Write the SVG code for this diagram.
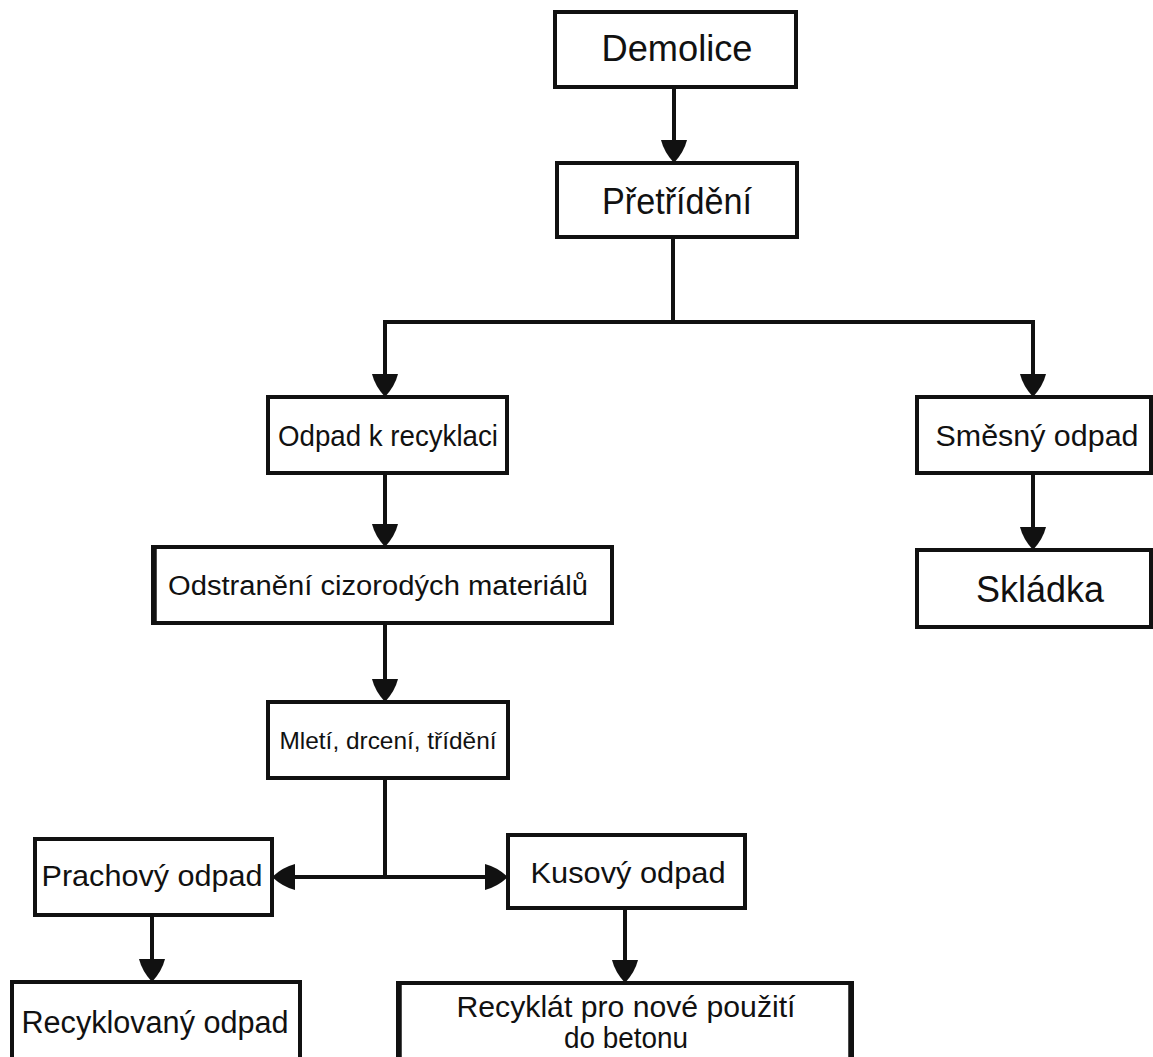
<svg xmlns="http://www.w3.org/2000/svg" width="1153" height="1057" viewBox="0 0 1153 1057">
  <style>
    .box { fill: #ffffff; stroke: #111111; stroke-width: 4; }
    .edge { stroke: #111111; stroke-width: 5.5; }
    .lbl { font-family: "Liberation Sans", Arial, sans-serif; fill: #111111; text-anchor: middle; }
    .wire { fill: none; stroke: #111111; stroke-width: 4; }
    .arrow { fill: none; stroke: #111111; stroke-width: 4; marker-end: url(#head); }
  </style>
  <defs>
    <marker id="head" markerUnits="userSpaceOnUse" viewBox="0 -14 24 28" refX="20" refY="0" markerWidth="24" markerHeight="28" orient="auto-start-reverse">
      <path d="M0,-13 Q12,-10 23,0 Q12,10 0,13 Z" fill="#111111"/>
    </marker>
  </defs>
  <rect width="1153" height="1057" fill="#ffffff"/>

  <!-- connectors -->
  <g id="connectors">
    <line class="arrow" x1="674" y1="87" x2="674" y2="160"/>
    <polyline class="wire" points="673,237 673,322"/>
    <polyline class="wire" points="385,322 1033,322"/>
    <line class="arrow" x1="385" y1="320" x2="385" y2="394"/>
    <line class="arrow" x1="1033" y1="320" x2="1033" y2="394"/>
    <line class="arrow" x1="1033" y1="473" x2="1033" y2="547"/>
    <line class="arrow" x1="385" y1="473" x2="385" y2="544"/>
    <line class="arrow" x1="385" y1="623" x2="385" y2="699"/>
    <polyline class="wire" points="385,778 385,877"/>
    <line class="wire" x1="275" y1="877" x2="505" y2="877" marker-start="url(#head)" marker-end="url(#head)"/>
    <line class="arrow" x1="152" y1="915" x2="152" y2="979"/>
    <line class="arrow" x1="625" y1="908" x2="625" y2="980"/>
  </g>

  <!-- nodes -->
  <g id="demolice">
    <rect class="box" x="555" y="12" width="241" height="75"/>
    <text class="lbl" x="677" y="61" font-size="36" textLength="151" lengthAdjust="spacingAndGlyphs">Demolice</text>
  </g>
  <g id="pretrideni">
    <rect class="box" x="557" y="163" width="240" height="74"/>
    <text class="lbl" x="677" y="214" font-size="36" textLength="150" lengthAdjust="spacingAndGlyphs">Přetřídění</text>
  </g>
  <g id="odpad-k-recyklaci">
    <rect class="box" x="268" y="397" width="239" height="76"/>
    <text class="lbl" x="388" y="446" font-size="29" textLength="220" lengthAdjust="spacingAndGlyphs">Odpad k recyklaci</text>
  </g>
  <g id="smesny-odpad">
    <rect class="box" x="917" y="397" width="234" height="76"/>
    <text class="lbl" x="1037" y="446" font-size="29" textLength="203" lengthAdjust="spacingAndGlyphs">Směsný odpad</text>
  </g>
  <g id="skladka">
    <rect class="box" x="917" y="550" width="234" height="77"/>
    <text class="lbl" x="1040" y="602" font-size="36" textLength="128" lengthAdjust="spacingAndGlyphs">Skládka</text>
  </g>
  <g id="odstraneni">
    <rect class="box" x="153" y="547" width="459" height="76"/>
    <line class="edge" x1="154" y1="547" x2="154" y2="623"/>
    <text class="lbl" x="378" y="595" font-size="27" textLength="420" lengthAdjust="spacingAndGlyphs">Odstranění cizorodých materiálů</text>
  </g>
  <g id="mleti">
    <rect class="box" x="268" y="702" width="240" height="76"/>
    <text class="lbl" x="388" y="749" font-size="24" textLength="217" lengthAdjust="spacingAndGlyphs">Mletí, drcení, třídění</text>
  </g>
  <g id="prachovy-odpad">
    <rect class="box" x="35" y="839" width="237" height="76"/>
    <text class="lbl" x="152" y="886" font-size="30" textLength="221" lengthAdjust="spacingAndGlyphs">Prachový odpad</text>
  </g>
  <g id="kusovy-odpad">
    <rect class="box" x="508" y="835" width="237" height="73"/>
    <text class="lbl" x="628" y="883" font-size="30" textLength="195" lengthAdjust="spacingAndGlyphs">Kusový odpad</text>
  </g>
  <g id="recyklovany-odpad">
    <rect class="box" x="12" y="982" width="288" height="80"/>
    <text class="lbl" x="155" y="1033" font-size="31" textLength="267" lengthAdjust="spacingAndGlyphs">Recyklovaný odpad</text>
  </g>
  <g id="recyklat">
    <rect class="box" x="398" y="983" width="454" height="80"/>
    <line class="edge" x1="399" y1="983" x2="399" y2="1057"/>
    <line class="edge" x1="851" y1="983" x2="851" y2="1057"/>
    <text class="lbl" x="626" y="1017" font-size="29" textLength="339" lengthAdjust="spacingAndGlyphs">Recyklát pro nové použití</text>
    <text class="lbl" x="626" y="1048" font-size="29" textLength="124" lengthAdjust="spacingAndGlyphs">do betonu</text>
  </g>
</svg>
